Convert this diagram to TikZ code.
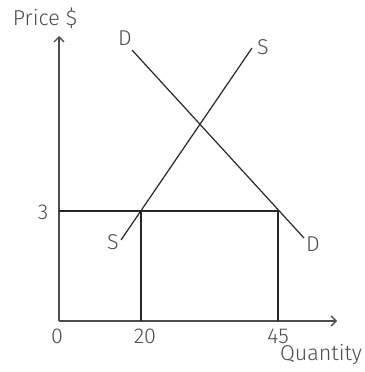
\documentclass[tikz,border=0pt]{standalone}
\usepackage{fontspec}
\setmainfont{Fira Sans Light}
\usetikzlibrary{arrows.meta}
\begin{document}
\begin{tikzpicture}[x=1pt,y=-1pt,
  lbl/.style={text=black!70, font=\fontsize{21.5}{21.5}\selectfont, inner sep=0pt},
  axis/.style={draw=black!70, line width=1.4pt, -{Straight Barb[length=5pt,width=10pt]}},
  curve/.style={draw=black!85, line width=1.2pt}]
\useasboundingbox (0,0) rectangle (364,372);
\coordinate (O) at (59,321);
\coordinate (Ytop) at (59,36);
\coordinate (Xend) at (337,321);
\coordinate (P3) at (59,211);
\coordinate (A) at (141,211);
\coordinate (B) at (278,211);
\coordinate (A0) at (141,321);
\coordinate (B0) at (278,321);
\coordinate (S1) at (121,240);
\coordinate (S2) at (252,48);
\coordinate (D1) at (132,50);
\coordinate (D2) at (304,238);
\draw[axis] (O) -- (Ytop);
\draw[axis] (O) -- (Xend);
\draw[curve] (P3) -- (B);
\draw[curve] (A) -- (A0);
\draw[curve] (B) -- (B0);
\draw[curve] (S1) -- (S2);
\draw[curve] (D1) -- (D2);
\node[lbl] (tprice) at (45,18) {Price \$};
\node[lbl] (tD1) at (125,38) {D};
\node[lbl] (tS2) at (263,47) {S};
\node[lbl] (t3) at (43,212) {3};
\node[lbl] (tS1) at (113,242) {S};
\node[lbl] (tD2) at (313,244) {D};
\node[lbl] (t0) at (57,336) {0};
\node[lbl] (t20) at (145,336) {20};
\node[lbl] (t45) at (278,336) {45};
\node[lbl] (tq) at (321,355) {Quantity};
\end{tikzpicture}
\end{document}
